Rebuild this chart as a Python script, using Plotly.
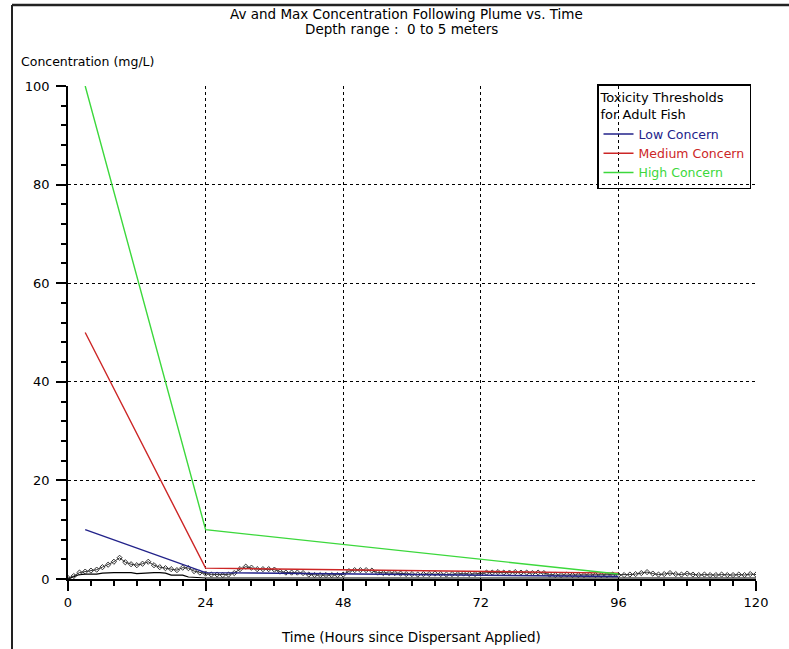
import plotly.graph_objects as go

# ---------------- data ----------------
hours = list(range(0, 121))

max_conc = [0.2, 0.6, 1.3, 1.5, 1.7, 1.9, 2.4, 2.9, 3.5, 4.3,
            3.4, 3.0, 2.8, 3.1, 3.5, 2.8, 2.4, 2.2, 2.0, 1.8,
            2.3, 2.2, 1.6, 1.3, 1.1, 0.9, 0.9, 0.8, 0.9, 1.2,
            2.0, 2.5, 2.3, 2.0, 2.0, 2.0, 1.9, 1.5, 1.3, 1.3,
            1.3, 1.2, 0.9, 0.8, 0.8, 0.8, 0.8, 0.8, 0.9, 1.6,
            1.8, 1.8, 1.8, 1.7, 1.3, 1.2, 1.2, 1.2, 1.1, 1.0,
            1.0, 0.9, 1.0, 1.0, 1.1, 1.0, 0.9, 1.0, 1.0, 1.1,
            1.0, 1.0, 1.1, 1.3, 1.3, 1.4, 1.3, 1.3, 1.4, 1.3,
            1.3, 1.2, 1.3, 1.2, 0.9, 0.8, 0.8, 0.9, 0.8, 0.8,
            0.8, 0.9, 0.8, 0.8, 0.8, 0.9, 0.8, 0.8, 0.9, 1.0,
            1.2, 1.4, 1.1, 0.9, 1.0, 1.2, 1.0, 0.9, 1.1, 0.9,
            0.8, 0.9, 0.8, 0.8, 0.9, 0.8, 0.8, 0.9, 0.8, 1.0,
            0.9]

avg_conc = [0.0, 0.5, 0.9, 1.0, 1.0, 1.0, 1.2, 1.3, 1.3, 1.3,
            1.3, 1.3, 1.1, 1.2, 1.3, 1.3, 1.3, 1.2, 0.8, 0.8,
            0.8, 0.4, 0.3, 0.3, 0.2, 0.2, 0.2, 0.2, 0.2, 0.2,
            0.2, 0.2, 0.2, 0.2, 0.2, 0.2, 0.2, 0.2, 0.2, 0.2,
            0.2, 0.2, 0.2, 0.2, 0.2, 0.2, 0.2, 0.2, 0.2, 0.2,
            0.2, 0.2, 0.2, 0.2, 0.2, 0.2, 0.2, 0.2, 0.2, 0.2,
            0.2, 0.2, 0.2, 0.2, 0.2, 0.2, 0.2, 0.2, 0.2, 0.2,
            0.2, 0.2, 0.2, 0.2, 0.2, 0.2, 0.2, 0.2, 0.2, 0.2,
            0.2, 0.2, 0.2, 0.2, 0.2, 0.2, 0.2, 0.2, 0.2, 0.2,
            0.2, 0.2, 0.2, 0.2, 0.2, 0.2, 0.2, 0.2, 0.2, 0.2,
            0.2, 0.2, 0.2, 0.2, 0.2, 0.2, 0.2, 0.2, 0.2, 0.2,
            0.2, 0.2, 0.2, 0.2, 0.2, 0.2, 0.2, 0.2, 0.2, 0.2,
            0.2]

threshold_hours = [3, 24, 96]
low_concern = [10, 1.3, 0.5]
medium_concern = [50, 2.2, 1.2]
high_concern = [100, 10, 1.0]

threshold_names = ["Low Concern", "Medium Concern", "High Concern"]
threshold_colors = ["#22228a", "#cc2626", "#3cd83c"]

x_ticks = [0, 24, 48, 72, 96, 120]
y_ticks = [0, 20, 40, 60, 80, 100]

title_line1 = "Av and Max Concentration Following Plume vs. Time"
title_line2 = "Depth range :  0 to 5 meters"
y_title = "Concentration (mg/L)"
x_title = "Time (Hours since Dispersant Applied)"
legend_title = "Toxicity Thresholds<br>for Adult Fish"

# ---------------- figure ----------------
FONT = "DejaVu Sans"
W, H = 789, 649
ML, MR, MT, MB = 68, 33, 86, 70
PW = W - ML - MR
PH = H - MT - MB

def px2x(px):
    return (px - ML) / PW

def py2y(py):
    return (H - MB - py) / PH

fig = go.Figure()

fig.add_trace(go.Scatter(x=hours, y=avg_conc, mode="lines",
                         line=dict(color="black", width=1.2),
                         showlegend=False, hoverinfo="skip"))
fig.add_trace(go.Scatter(x=hours, y=max_conc, mode="lines+markers",
                         line=dict(color="#333333", width=1),
                         marker=dict(symbol="diamond-open", size=4, color="#333333",
                                     line=dict(width=1)),
                         showlegend=False, hoverinfo="skip"))

for name, vals, col in zip(threshold_names, [low_concern, medium_concern, high_concern],
                           threshold_colors):
    fig.add_trace(go.Scatter(x=threshold_hours, y=vals, mode="lines",
                             line=dict(color=col, width=1.4),
                             name=f'<span style="color:{col}">{name}</span>'))

fig.update_layout(
    width=W, height=H,
    margin=dict(l=ML, r=MR, t=MT, b=MB),
    paper_bgcolor="white", plot_bgcolor="white",
    font=dict(family=FONT, size=12, color="black"),
    showlegend=True,
    legend=dict(
        title=dict(text=legend_title, font=dict(size=13, color="black")),
        x=px2x(597), y=py2y(84), xanchor="left", yanchor="top",
        bgcolor="rgba(0,0,0,0)", bordercolor="black", borderwidth=1.5,
        font=dict(size=12.5), itemwidth=30, tracegroupgap=0,
    ),
)

fig.update_xaxes(
    range=[0, 120], tickvals=x_ticks, ticktext=[str(v) for v in x_ticks],
    showline=True, linecolor="black", linewidth=2,
    ticks="outside", ticklen=10, tickcolor="black", tickwidth=1.5,
    minor=dict(dtick=4, ticks="outside", ticklen=5, tickcolor="black", tickwidth=1.5, showgrid=False),
    showgrid=True, gridcolor="black", griddash="dot", gridwidth=1,
    zeroline=False, tickfont=dict(size=13),
)
fig.update_yaxes(
    range=[0, 100], tickvals=y_ticks, ticktext=[str(v) for v in y_ticks],
    showline=True, linecolor="black", linewidth=1.5,
    ticks="outside", ticklen=10, tickcolor="black", tickwidth=1.5,
    minor=dict(dtick=4, ticks="outside", ticklen=5, tickcolor="black", tickwidth=1.5, showgrid=False),
    showgrid=True, gridcolor="black", griddash="dot", gridwidth=1,
    zeroline=False, tickfont=dict(size=13), ticklabelstandoff=4,
)

fig.add_annotation(text=title_line1, xref="paper", yref="paper",
                   x=px2x(406), y=py2y(14), xanchor="center", yanchor="middle",
                   showarrow=False, font=dict(size=13.5))
fig.add_annotation(text=title_line2, xref="paper", yref="paper",
                   x=px2x(401), y=py2y(29), xanchor="center", yanchor="middle",
                   showarrow=False, font=dict(size=13.5))
fig.add_annotation(text=y_title, xref="paper", yref="paper",
                   x=px2x(19), y=py2y(61), xanchor="left", yanchor="middle",
                   showarrow=False, font=dict(size=12.5))
fig.add_annotation(text=x_title, xref="paper", yref="paper",
                   x=px2x(411), y=py2y(637), xanchor="center", yanchor="middle",
                   showarrow=False, font=dict(size=13.5))

# outer frame (top and left edges)
fig.add_shape(type="line", xref="paper", yref="paper",
              x0=px2x(12), x1=px2x(789), y0=py2y(5), y1=py2y(5),
              line=dict(color="#222222", width=2.5))
fig.add_shape(type="line", xref="paper", yref="paper",
              x0=px2x(12), x1=px2x(12), y0=py2y(5), y1=py2y(649),
              line=dict(color="#222222", width=2))

fig.write_html(
    "out.html",
    config={"displayModeBar": False},
    post_script="document.body.style.margin='0';document.body.style.overflow='hidden';",
)
